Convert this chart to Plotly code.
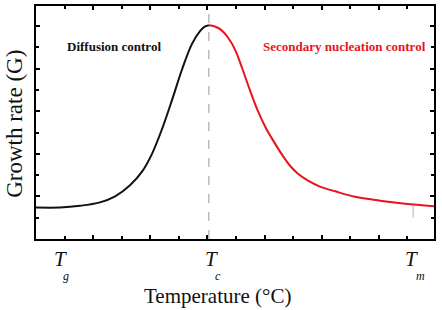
import plotly.graph_objects as go

# Data (arbitrary units)
black_x = [0.0, 0.84, 1.54, 2.24, 2.77, 3.29, 3.71, 4.06, 4.41, 4.76, 5.11, 5.46, 5.74, 5.92, 6.05]
black_y = [0.74, 0.74, 0.78, 0.86, 1.00, 1.26, 1.58, 2.00, 2.58, 3.26, 3.98, 4.58, 4.88, 4.99, 5.02]
red_x = [6.05, 6.26, 6.48, 6.72, 6.97, 7.21, 7.49, 7.77, 8.05, 8.33, 8.61, 8.89, 9.17, 9.52,
         9.94, 10.47, 11.17, 12.04, 12.92, 13.93]
red_y = [5.02, 4.99, 4.91, 4.73, 4.44, 4.02, 3.49, 3.00, 2.60, 2.28, 1.98, 1.72, 1.53, 1.37,
         1.23, 1.12, 0.99, 0.90, 0.83, 0.77]

Tc = 6.05
Tm = 13.2
Tm_mark_y = [0.5, 0.78]
y_max = 5.47
x_max = 13.93

temp_subs = ["g", "c", "m"]
temp_T_x = [0.84, 6.15, 13.13]
temp_sub_x = [1.06, 6.38, 13.47]

serif = "Liberation Serif"

fig = go.Figure()
fig.add_trace(go.Scatter(x=[Tc, Tc], y=[0, y_max], mode="lines",
                         line=dict(color="#9a9a9a", width=1, dash="dash"), hoverinfo="skip"))
fig.add_trace(go.Scatter(x=[Tm, Tm], y=Tm_mark_y, mode="lines",
                         line=dict(color="#b0b0b0", width=1), hoverinfo="skip"))
fig.add_trace(go.Scatter(x=black_x, y=black_y, mode="lines", line_shape="spline",
                         line=dict(color="#111111", width=2)))
fig.add_trace(go.Scatter(x=red_x, y=red_y, mode="lines", line_shape="spline",
                         line=dict(color="#e8141c", width=2)))

ann = []
ann.append(dict(x=2.73, y=4.53, xref="x", yref="y", text="Diffusion control",
                showarrow=False, font=dict(family=serif, size=13, color="#111111", weight="bold")))
ann.append(dict(x=10.79, y=4.53, xref="x", yref="y", text="Secondary nucleation control",
                showarrow=False, font=dict(family=serif, size=13, color="#e8141c", weight="bold")))
for sub, tx, sx in zip(temp_subs, temp_T_x, temp_sub_x):
    ann.append(dict(x=tx, y=0, xref="x", yref="paper", yshift=-20, text="T",
                    showarrow=False,
                    font=dict(family=serif, size=21, color="#111111", style="italic"),
                    xanchor="center", yanchor="middle"))
    ann.append(dict(x=sx, y=0, xref="x", yref="paper", yshift=-37, text=sub,
                    showarrow=False,
                    font=dict(family=serif, size=12, color="#111111", style="italic"),
                    xanchor="center", yanchor="middle"))
ann.append(dict(x=0.455, y=-0.243, xref="paper", yref="paper", text="Temperature (°C)",
                showarrow=False, font=dict(family=serif, size=21, color="#111111"),
                xanchor="center", yanchor="middle"))
ann.append(dict(x=-0.053, y=0.494, xref="paper", yref="paper", text="Growth rate (G)",
                textangle=-90, showarrow=False, font=dict(family=serif, size=23, color="#111111"),
                xanchor="center", yanchor="middle"))

axis_common = dict(showline=True, linecolor="black", linewidth=2, mirror="ticks",
                   ticks="inside", ticklen=4, tickwidth=1.5, tickcolor="black",
                   showticklabels=False, showgrid=False, zeroline=False)

fig.update_layout(
    width=442, height=310,
    margin=dict(l=36, r=8, t=4, b=71),
    paper_bgcolor="white", plot_bgcolor="white",
    showlegend=False,
    annotations=ann,
    xaxis=dict(range=[0, x_max], tick0=0, dtick=2,
               minor=dict(ticks="inside", ticklen=3, dtick=1, tickcolor="black"),
               **axis_common),
    yaxis=dict(range=[0, y_max], tick0=0, dtick=1,
               minor=dict(ticks="inside", ticklen=3, dtick=0.5, tickcolor="black"),
               **axis_common),
)

fig.write_html("out.html")
